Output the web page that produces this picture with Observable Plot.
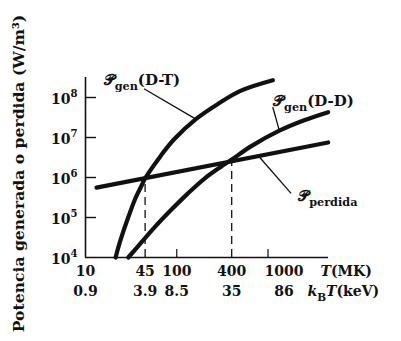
<!DOCTYPE html>
<html><head><meta charset="utf-8">
<script src="https://cdn.jsdelivr.net/npm/d3@7"></script>
<script src="https://cdn.jsdelivr.net/npm/@observablehq/plot@0.6"></script>
<style>body{margin:0;background:#fff} svg{display:block}</style>
</head><body><div id="chart"></div>
<script>
// Temperature (MK) and power density (W/m^3)
const dtT = [21.4, 22.6, 25.7, 29.9, 34.8, 41.2, 45, 66.7, 93, 162, 280, 505, 1130];
const dtP = [1e4, 1.62e4, 4.17e4, 1.12e5, 2.82e5, 6.3e5, 9.5e5, 3.47e6, 8.9e6, 2.88e7, 6.8e7, 1.48e8, 2.7e8];
const ddT = [29.4, 37, 56.4, 85.9, 131, 200, 305, 400, 650, 1330, 2490, 4560];
const ddP = [1.0e4, 1.82e4, 5.5e4, 1.51e5, 3.9e5, 9.3e5, 1.86e6, 2.8e6, 6.0e6, 1.48e7, 2.7e7, 4.3e7];
const lossT = [13.2, 4560];
const lossP = [5.6e5, 7.5e6];
const crossT = [45, 400];
const crossP = [1.0e6, 2.55e6];
const yTicks = [1e4, 1e5, 1e6, 1e7, 1e8];
const xTicksMK = [10, 45, 100, 400, 1000];
const xTicksKeV = ["0.9", "3.9", "8.5", "35", "86"];
const xInnerTicks = [100, 1000];
const labelDT = "𝒫_{gen}(D-T)";
const labelDD = "𝒫_{gen}(D-D)";
const labelLoss = "𝒫_{perdida}";
const xTitle = "*T*(MK)";
const xTitle2 = "*k*_{B}*T*(keV)";
const yTitle = "Potencia generada o perdida (W/m³)";

const toRows = (T, P) => T.map((t, i) => ({T: t, P: P[i]}));
const dt = toRows(dtT, dtP), dd = toRows(ddT, ddP), loss = toRows(lossT, lossP);
const keV = new Map(xTicksMK.map((t, i) => [t, xTicksKeV[i]]));
const ink = "#111";

const plot = Plot.plot({
  width: 401, height: 341,
  marginLeft: 85, marginRight: 73, marginTop: 77, marginBottom: 84,
  style: {fontFamily: "'DejaVu Serif', serif", fontSize: "14px", fontWeight: "bold", background: "white", color: ink},
  x: {type: "log", domain: [10, 4600], axis: null},
  y: {type: "log", domain: [1e4, 10 ** 8.5], axis: null},
  marks: [
    Plot.ruleX([10], {stroke: ink, strokeWidth: 1.6}),
    Plot.ruleY([1e4], {stroke: ink, strokeWidth: 1.6}),
    Plot.axisY({ticks: yTicks.slice(1), tickSize: 11, dx: 11, tickFormat: () => "", label: null, stroke: ink, strokeWidth: 1.4}),
    Plot.axisY({ticks: yTicks, tickSize: 0, tickPadding: 8, dy: 2, fill: ink, label: null,
      tickFormat: d => `10^{${Math.round(Math.log10(d))}}`}),
    Plot.axisX({ticks: xInnerTicks, tickSize: 8, dy: -8, tickFormat: () => "", label: null, stroke: ink, strokeWidth: 1.2}),
    Plot.text(xTicksMK, {x: d => d, frameAnchor: "bottom", dy: 18, text: d => String(d), filter: d => d < 1000, fill: ink}),
    Plot.text(xTicksMK, {x: d => d, frameAnchor: "bottom", dy: 18, dx: 16, text: d => String(d), filter: d => d >= 1000, fill: ink}),
    Plot.text(xTicksMK, {x: d => d, frameAnchor: "bottom", dy: 38, text: d => keV.get(d), filter: d => d < 1000, fill: ink}),
    Plot.text(xTicksMK, {x: d => d, frameAnchor: "bottom", dy: 38, dx: 16, text: d => keV.get(d), filter: d => d >= 1000, fill: ink}),
    Plot.text([xTitle], {frameAnchor: "bottom-right", dx: -8, dy: 18, textAnchor: "start", fill: ink}),
    Plot.text([xTitle2], {frameAnchor: "bottom-right", dx: -21, dy: 38, textAnchor: "start", fill: ink}),
    Plot.text([yTitle], {frameAnchor: "left", dx: -67, dy: 6, rotate: -90, textAnchor: "middle", fill: ink, fontSize: 15.6}),
    Plot.ruleX(crossT, {x: d => d, y1: 1e4, y2: (d, i) => crossP[i], stroke: ink, strokeWidth: 1.3, strokeDasharray: "8,5"}),
    Plot.line(loss, {x: "T", y: "P", stroke: ink, strokeWidth: 4.2}),
    Plot.line(dt, {x: "T", y: "P", stroke: ink, strokeWidth: 4.2, curve: "catmull-rom"}),
    Plot.line(dd, {x: "T", y: "P", stroke: ink, strokeWidth: 4.2, curve: "catmull-rom"}),
    // leader lines from labels to curves
    Plot.link([0], {x1: 43.7, y1: 1.66e8, x2: dtT[9], y2: dtP[9], stroke: ink, strokeWidth: 1.3}),
    Plot.link([0], {x1: 1127, y1: 5.8e7, x2: ddT[9], y2: ddP[9], stroke: ink, strokeWidth: 1.3}),
    Plot.link([0], {x1: 800, y1: 3.3e6, x2: 1790, y2: 4.0e5, stroke: ink, strokeWidth: 1.3}),
    Plot.text([labelDT], {x: 15.8, y: 2.1e8, textAnchor: "start", lineAnchor: "bottom", fill: ink, fontSize: 15}),
    Plot.text([labelDD], {x: 1135, y: 5.96e7, textAnchor: "start", lineAnchor: "bottom", fill: ink, fontSize: 15}),
    Plot.text([labelLoss], {x: 2140, y: 2.66e5, textAnchor: "start", lineAnchor: "bottom", fill: ink, fontSize: 15})
  ]
});

// turn ^{..}, _{..} and *..* markup into tspans (superscripts, subscripts, italics)
function richify(svg) {
  d3.select(svg).selectAll("text").each(function () {
    const t = this;
    if (t.querySelector("tspan")) return;
    const s = t.textContent;
    if (!/(\^\{|_\{|\*)/.test(s)) return;
    const parts = s.split(/(\^\{[^}]*\}|_\{[^}]*\}|\*[^*]*\*)/).filter(p => p);
    t.textContent = "";
    let shift = 0;
    for (const p of parts) {
      const ts = d3.select(t).append("tspan");
      let txt = p, target = 0;
      if (p.startsWith("^{")) { txt = p.slice(2, -1); ts.attr("font-size", "0.72em"); target = -7; }
      else if (p.startsWith("_{")) { txt = p.slice(2, -1); ts.attr("font-size", "0.75em"); target = 5; }
      else if (p.startsWith("*")) { txt = p.slice(1, -1); ts.attr("font-style", "italic"); }
      const dy = target - shift;
      if (dy) ts.attr("dy", dy);
      shift = target;
      ts.text(txt);
    }
  });
}
richify(plot);
document.getElementById("chart").appendChild(plot);
</script>
</body></html>
